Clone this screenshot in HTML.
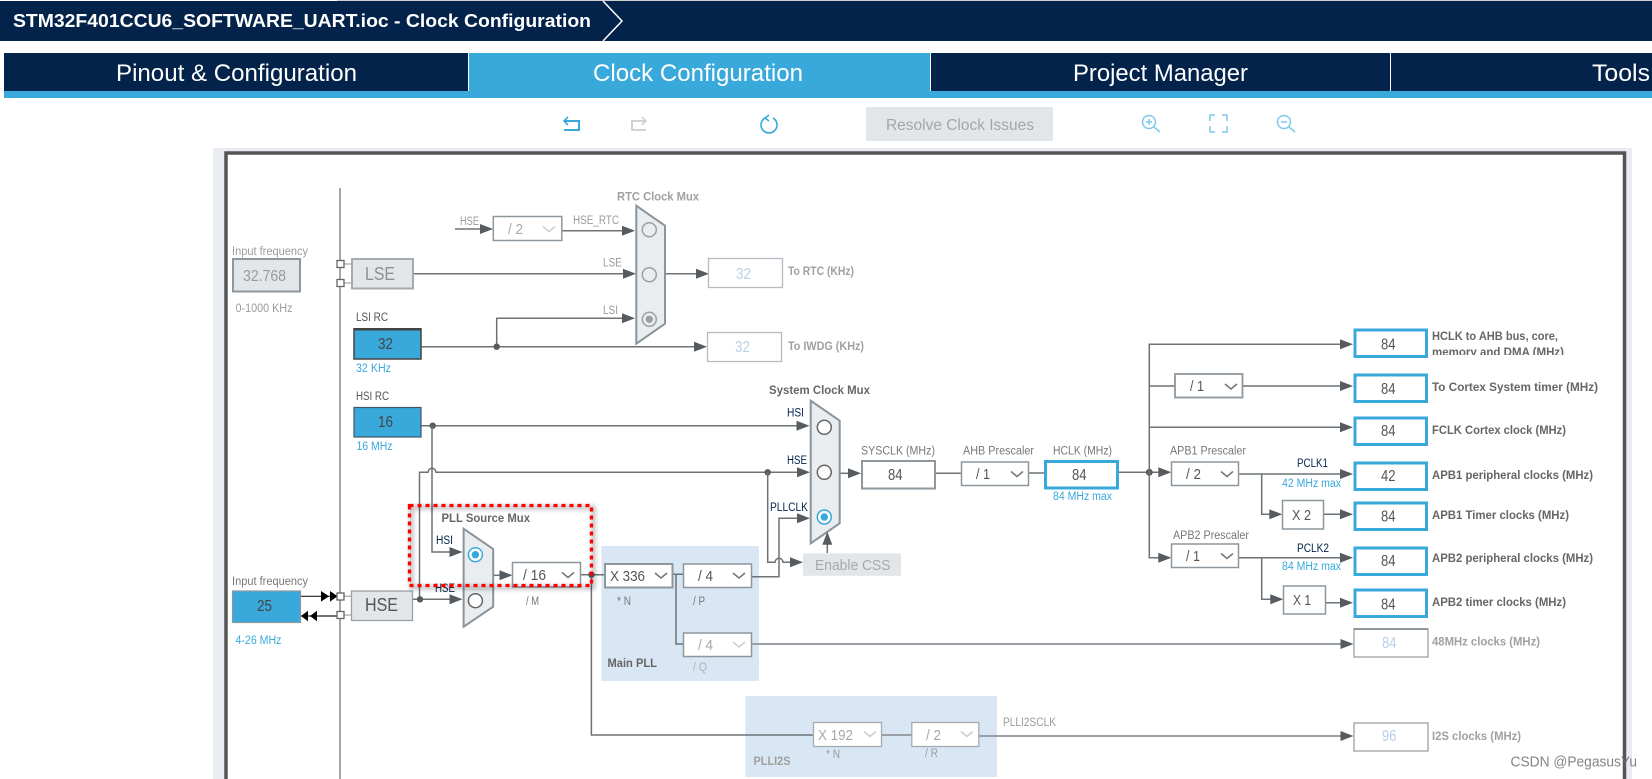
<!DOCTYPE html>
<html><head><meta charset="utf-8"><style>
html,body{margin:0;padding:0;background:#fff;width:1652px;height:779px;overflow:hidden}
svg{display:block;font-family:"Liberation Sans",sans-serif}
text{white-space:pre}
.l{stroke:#6c7276;stroke-width:1.5;fill:none}
.g{stroke:#999fa4;stroke-width:2;fill:none}
.s{font-size:11.5px;fill:#777}
.d{font-size:11.5px;fill:#9b9b9b}
.n{font-size:11.5px;fill:#03234b}
.k{font-size:11.5px;fill:#555}
.b{font-size:11.5px;fill:#39a9dc}
.h{font-size:11.5px;font-weight:bold;fill:#666}
.hd{font-size:11.5px;font-weight:bold;fill:#a0a0a0}
.v{font-size:16px;fill:#555}
.vd{font-size:16px;fill:#b9d0e8}
.sel{fill:#fff;stroke:#8e979d;stroke-width:1.5}
.out{fill:#fff;stroke:#39a9dc;stroke-width:3}
.mux{fill:#e9edf0;stroke:#8a949b;stroke-width:2}
.ci{fill:#fff;stroke:#666;stroke-width:1.5}
.cid{fill:#e9edf0;stroke:#9a9fa3;stroke-width:1.5}
.sq{fill:#fff;stroke:#666;stroke-width:1.3}
.tab{font-size:24.5px;fill:#fff}
</style></head><body>
<svg width="1652" height="779" viewBox="0 0 1652 779" xmlns="http://www.w3.org/2000/svg">
<defs>
<path id="a" d="M-13-5L0 0L-13 5z" fill="#565b5f"/>
<path id="c" d="M0 0L6 5L12 0" fill="none" stroke-width="1.6"/>
<filter id="sh" x="-5%" y="-10%" width="110%" height="125%"><feGaussianBlur stdDeviation="2.5"/></filter>
<clipPath id="cl"><rect x="1430" y="325" width="150" height="30"/></clipPath>
</defs>

<!-- header -->
<rect x="337" y="0" width="1315" height="1" fill="#cfcfcf"/>
<rect x="0" y="1" width="1652" height="40" fill="#03234b"/>
<path d="M603 1L622 21L603 41" fill="none" stroke="#fff" stroke-width="1.5"/>
<text x="13" y="27" font-size="18" font-weight="bold" fill="#fff" textLength="578" lengthAdjust="spacingAndGlyphs">STM32F401CCU6_SOFTWARE_UART.ioc - Clock Configuration</text>

<!-- tabs -->
<rect x="4" y="53" width="1648" height="38" fill="#03234b"/>
<rect x="469" y="53" width="461" height="38" fill="#39a9dc"/>
<rect x="4" y="91" width="1648" height="7" fill="#39a9dc"/>
<rect x="468" y="53" width="1" height="38" fill="#fff"/>
<rect x="930" y="53" width="1" height="38" fill="#fff"/>
<rect x="1390" y="53" width="1" height="38" fill="#fff"/>
<text class="tab" x="116" y="81" textLength="241" lengthAdjust="spacingAndGlyphs">Pinout &amp; Configuration</text>
<text class="tab" x="593" y="81" textLength="210" lengthAdjust="spacingAndGlyphs">Clock Configuration</text>
<text class="tab" x="1073" y="81" textLength="175" lengthAdjust="spacingAndGlyphs">Project Manager</text>
<text class="tab" x="1592" y="81" textLength="58" lengthAdjust="spacingAndGlyphs">Tools</text>

<!-- toolbar -->
<g fill="none" stroke="#39a9dc" stroke-width="1.6">
<path d="M564 121H579V130H564" stroke-width="2"/><path d="M568 117L564 121L568 125"/>
<path d="M765 118A8 8 0 1 0 773 118M769 115L765 118L769 121"/>
</g>
<g fill="none" stroke="#cfd3d6" stroke-width="2"><path d="M646 121H632V130H646"/><path d="M642 117L646 121L642 125" stroke-width="1.6"/></g>
<rect x="866" y="107" width="187" height="34" fill="#e3e6e9"/>
<text x="886" y="130" font-size="16" fill="#a2a6aa" textLength="148" lengthAdjust="spacingAndGlyphs">Resolve Clock Issues</text>
<g fill="none" stroke="#7fc9ea" stroke-width="1.5">
<circle cx="1149" cy="122" r="6.5"/><path d="M1154 127L1160 132M1146 122H1152M1149 119V125"/>
<path d="M1210 121V115H1215M1222 115H1227V121M1227 126V132H1222M1215 132H1210V126"/>
<circle cx="1284" cy="122" r="6.5"/><path d="M1289 127L1295 132M1281 122H1287"/>
</g>

<!-- panel -->
<rect x="213" y="148" width="1419" height="631" fill="#e9edf1"/>
<rect x="226" y="153" width="1398.5" height="640" fill="#fff" stroke="#555" stroke-width="3.5"/>

<!-- left rail -->
<path d="M340 188V779" stroke="#777" stroke-width="1.3" fill="none"/>

<!-- main PLL backgrounds -->
<rect x="601.4" y="546" width="157.6" height="135" fill="#d9e7f4"/>
<rect x="745.3" y="696" width="251.7" height="81" fill="#d9e7f4"/>

<!-- connectors -->
<path class="l" d="M455 229H483"/><use href="#a" x="493" y="229"/>
<path class="l" d="M562 230.7H625"/><use href="#a" x="635" y="230.7"/>
<path class="l" d="M413 273.7H626"/><use href="#a" x="636" y="273.7"/>
<path class="l" d="M665 273.7H698"/><use href="#a" x="709" y="273.7"/>
<path class="l" d="M421 346.7H697"/><use href="#a" x="707" y="346.7"/>
<path class="l" d="M496.7 346.7V318.3H625"/><use href="#a" x="635" y="318.3"/>
<circle cx="496.7" cy="346.7" r="3.2" fill="#565b5f"/>
<path d="M344 264H352M344 283H352M344 596.3H352M344 615H352" stroke="#b5babd" stroke-width="1.5" fill="none"/>

<path class="l" d="M421 425.7H799"/><use href="#a" x="809.5" y="425.7"/>
<circle cx="432.7" cy="425.7" r="3.2" fill="#565b5f"/>
<path class="l" d="M432 426V552H452"/><use href="#a" x="462.5" y="552"/>
<path class="l" d="M419.5 599V472.3H428A4 4 0 0 1 436 472.3H800"/><use href="#a" x="810" y="472.3"/>
<circle cx="767.7" cy="472.3" r="3.2" fill="#565b5f"/>
<path class="l" d="M767.7 472.3V562.3H775A4 4 0 0 1 783 562.3H793"/><use href="#a" x="803" y="562.3"/>
<path class="l" d="M751.5 576.7H779V518.3H800"/><use href="#a" x="810" y="518.3"/>
<path class="l" d="M827.3 553V542"/>
<path class="l" d="M412.5 599.3H452"/><use href="#a" x="462.5" y="599.3"/>
<circle cx="420" cy="599.3" r="3.2" fill="#565b5f"/>
<path d="M301 596.3H337M301 616H337" stroke="#222" stroke-width="1.2" fill="none"/>
<g fill="#000"><path d="M321 591L329 596.3L321 601.6zM330 591L337.5 596.3L330 601.6zM301 616L308 610.7V621.3zM310 616L317 610.7V621.3z"/></g>
<path class="l" d="M493 575.3H503"/><use href="#a" x="512.5" y="575.3"/>
<path class="l" d="M580.7 574.7H605M591.4 574.7V735H814"/>
<circle cx="591.4" cy="574.7" r="3.2" fill="#565b5f"/>
<path class="l" d="M672 574.3H684M676 574.3V644H684"/>
<path class="g" d="M751.5 644H1345"/><use href="#a" x="1353.5" y="644"/>
<path class="g" d="M881.5 735H912M979 736H1345"/><use href="#a" x="1353.5" y="736"/>

<path class="l" d="M840 473.3H851"/><use href="#a" x="861" y="473.3"/>
<path class="l" d="M935.5 473.3H962M1029 473H1045"/>
<path class="l" d="M1118 472.3H1161"/><use href="#a" x="1171.3" y="472.3"/>
<circle cx="1149.3" cy="472.3" r="3.5" fill="#565b5f"/>
<path class="l" d="M1163 344.3H1149.3V557.7H1161"/><use href="#a" x="1171.3" y="557.7"/>
<path class="l" d="M1149 344.3H1343"/><use href="#a" x="1353" y="344.3"/>
<path class="l" d="M1149 386H1175M1243 386H1343"/><use href="#a" x="1353" y="386"/>
<path class="l" d="M1149 427.3H1343"/><use href="#a" x="1353" y="427.3"/>
<path class="l" d="M1239 474H1343"/><use href="#a" x="1353" y="474"/>
<path class="l" d="M1261.7 474V514.3H1272"/><use href="#a" x="1282.3" y="514.3"/>
<path class="l" d="M1324 514.3H1343"/><use href="#a" x="1353" y="514.3"/>
<path class="l" d="M1239 557.7H1343"/><use href="#a" x="1353" y="557.7"/>
<path class="l" d="M1261.7 557.7V599.3H1273"/><use href="#a" x="1283.3" y="599.3"/>
<path class="l" d="M1326 602.7H1343"/><use href="#a" x="1353" y="602.7"/>

<!-- left inputs -->
<text class="d" x="232" y="255" textLength="76" lengthAdjust="spacingAndGlyphs">Input frequency</text>
<rect x="233" y="259" width="67" height="32.5" fill="#e3e6e9" stroke="#8e979d" stroke-width="2"/>
<text x="243" y="281" font-size="16" fill="#999" textLength="43" lengthAdjust="spacingAndGlyphs">32.768</text>
<text class="d" x="235.5" y="312" textLength="57" lengthAdjust="spacingAndGlyphs">0-1000 KHz</text>
<rect x="337" y="260.5" width="7" height="7" class="sq"/><rect x="337" y="279.5" width="7" height="7" class="sq"/>
<rect x="352" y="259" width="61" height="29.5" fill="#e3e6e9" stroke="#a4abb0" stroke-width="2"/>
<text x="365" y="280" font-size="18" fill="#8c9196" textLength="30" lengthAdjust="spacingAndGlyphs">LSE</text>

<text class="k" x="356" y="321" textLength="32" lengthAdjust="spacingAndGlyphs">LSI RC</text>
<rect x="354" y="329" width="67" height="30" fill="#39a9dc" stroke="#444" stroke-width="1.5"/>
<rect x="353.5" y="328" width="68" height="2.5" fill="#444"/>
<text x="378" y="349" font-size="16" fill="#444" textLength="15" lengthAdjust="spacingAndGlyphs">32</text>
<text class="b" x="356" y="372" textLength="35" lengthAdjust="spacingAndGlyphs">32 KHz</text>
<text class="k" x="356" y="400" textLength="33" lengthAdjust="spacingAndGlyphs">HSI RC</text>
<rect x="354" y="407.5" width="67" height="29.5" fill="#39a9dc" stroke="#3e5566" stroke-width="1.2"/>
<text x="378" y="427" font-size="16" fill="#444" textLength="15" lengthAdjust="spacingAndGlyphs">16</text>
<text class="b" x="356.5" y="450" textLength="36" lengthAdjust="spacingAndGlyphs">16 MHz</text>

<text class="s" x="232" y="585" textLength="76" lengthAdjust="spacingAndGlyphs">Input frequency</text>
<rect x="232.5" y="591" width="68" height="31.5" fill="#39a9dc" stroke="#8e979d" stroke-width="1.2"/>
<text x="257" y="611" font-size="16" fill="#444" textLength="15" lengthAdjust="spacingAndGlyphs">25</text>
<text class="b" x="235.5" y="644" textLength="46" lengthAdjust="spacingAndGlyphs">4-26 MHz</text>
<rect x="337" y="593" width="7" height="7" class="sq"/><rect x="337" y="611.5" width="7" height="7" class="sq"/>
<rect x="351.5" y="591" width="61" height="29.5" fill="#e3e6e9" stroke="#9aa1a6" stroke-width="1.3"/>
<text x="365" y="611" font-size="18" fill="#555" textLength="33" lengthAdjust="spacingAndGlyphs">HSE</text>

<!-- RTC mux -->
<text class="hd" x="617" y="200.7" textLength="82" lengthAdjust="spacingAndGlyphs">RTC Clock Mux</text>
<text class="d" x="460" y="225" textLength="19" lengthAdjust="spacingAndGlyphs">HSE</text>
<rect x="493.3" y="216.5" width="68.5" height="24" class="sel"/>
<text x="508" y="234" font-size="15" fill="#a5a9ad" textLength="15" lengthAdjust="spacingAndGlyphs">/ 2</text>
<use href="#c" x="543" y="226.5" stroke="#ccd0d3"/>
<text class="d" x="573" y="224" textLength="46" lengthAdjust="spacingAndGlyphs">HSE_RTC</text>
<text class="d" x="603" y="266.7" textLength="19" lengthAdjust="spacingAndGlyphs">LSE</text>
<text class="d" x="603" y="314" textLength="15" lengthAdjust="spacingAndGlyphs">LSI</text>
<polygon class="mux" points="636.3,205.7 665,225.7 665,323.7 636.3,343.7"/>
<circle class="cid" cx="649.3" cy="229.7" r="7"/>
<circle class="cid" cx="649.3" cy="274.7" r="7"/>
<circle class="cid" cx="649.3" cy="319.3" r="7"/><circle cx="649.3" cy="319.3" r="3.7" fill="#9a9fa3"/>
<rect x="708.5" y="258.5" width="74" height="29" fill="#fff" stroke="#b5bbc0" stroke-width="1.3"/>
<text x="736" y="279" class="vd" textLength="15" lengthAdjust="spacingAndGlyphs">32</text>
<text class="hd" x="788" y="275" textLength="66" lengthAdjust="spacingAndGlyphs">To RTC (KHz)</text>
<rect x="707.5" y="332.5" width="74" height="29" fill="#fff" stroke="#b5bbc0" stroke-width="1.3"/>
<text x="735" y="352" class="vd" textLength="15" lengthAdjust="spacingAndGlyphs">32</text>
<text class="hd" x="788" y="350" textLength="76" lengthAdjust="spacingAndGlyphs">To IWDG (KHz)</text>

<!-- PLL source mux -->
<text class="h" x="441.5" y="522" textLength="88.5" lengthAdjust="spacingAndGlyphs">PLL Source Mux</text>
<text class="n" x="436" y="544" textLength="17" lengthAdjust="spacingAndGlyphs">HSI</text>
<text class="n" x="435" y="592" textLength="20" lengthAdjust="spacingAndGlyphs">HSE</text>
<polygon class="mux" points="463.6,528.7 493.2,549 493.2,606.7 463.6,626.7"/>
<circle cx="475.4" cy="554.7" r="7" fill="#fff" stroke="#39a9dc" stroke-width="1.5"/><circle cx="475.4" cy="554.7" r="3.7" fill="#39a9dc"/>
<circle class="ci" cx="475.4" cy="600.7" r="7"/>
<rect x="512.5" y="562.5" width="68" height="24.5" class="sel"/>
<text x="523" y="580" font-size="15" fill="#555" textLength="23" lengthAdjust="spacingAndGlyphs">/ 16</text>
<use href="#c" x="562" y="572.5" stroke="#777"/>
<text class="s" x="526" y="605" textLength="13" lengthAdjust="spacingAndGlyphs">/ M</text>

<!-- main PLL -->
<text class="h" x="607.5" y="667" textLength="49.5" lengthAdjust="spacingAndGlyphs">Main PLL</text>
<rect x="605" y="564" width="67.5" height="23.5" fill="#fff" stroke="#8e979d" stroke-width="2"/>
<text x="610" y="581" font-size="15" fill="#555" textLength="35" lengthAdjust="spacingAndGlyphs">X 336</text>
<use href="#c" x="655" y="573" stroke="#777"/>
<text class="s" x="617" y="605" textLength="14" lengthAdjust="spacingAndGlyphs">* N</text>
<rect x="683.5" y="564" width="68" height="23.5" class="sel"/>
<text x="698" y="581" font-size="15" fill="#555" textLength="15" lengthAdjust="spacingAndGlyphs">/ 4</text>
<use href="#c" x="733" y="573" stroke="#777"/>
<text class="s" x="693" y="605" textLength="12" lengthAdjust="spacingAndGlyphs">/ P</text>
<rect x="683.5" y="633" width="68" height="23.5" class="sel"/>
<text x="698" y="650" font-size="15" fill="#a5a9ad" textLength="15" lengthAdjust="spacingAndGlyphs">/ 4</text>
<use href="#c" x="733" y="642" stroke="#ccd0d3"/>
<text class="d" x="693" y="671" textLength="14" lengthAdjust="spacingAndGlyphs" style="fill:#adb2b6">/ Q</text>

<!-- PLLI2S -->
<text class="hd" x="753.5" y="765" textLength="37" lengthAdjust="spacingAndGlyphs">PLLI2S</text>
<rect x="813.5" y="722.5" width="68" height="24" fill="#fff" stroke="#a5abb0" stroke-width="1.3"/>
<text x="818" y="740" font-size="15" fill="#a5a9ad" textLength="35" lengthAdjust="spacingAndGlyphs">X 192</text>
<use href="#c" x="864" y="731.5" stroke="#ccd0d3"/>
<text class="d" x="826" y="758" textLength="14" lengthAdjust="spacingAndGlyphs">* N</text>
<rect x="911.8" y="722.5" width="67" height="24" fill="#fff" stroke="#a5abb0" stroke-width="1.3"/>
<text x="926" y="740" font-size="15" fill="#a5a9ad" textLength="15" lengthAdjust="spacingAndGlyphs">/ 2</text>
<use href="#c" x="961" y="731.5" stroke="#ccd0d3"/>
<text class="d" x="925" y="757" textLength="13" lengthAdjust="spacingAndGlyphs">/ R</text>
<text class="d" x="1003" y="726" textLength="53" lengthAdjust="spacingAndGlyphs">PLLI2SCLK</text>

<!-- system mux -->
<text class="h" x="769" y="394" textLength="101" lengthAdjust="spacingAndGlyphs">System Clock Mux</text>
<text class="n" x="787" y="416.7" textLength="17" lengthAdjust="spacingAndGlyphs">HSI</text>
<text class="n" x="787" y="464" textLength="20" lengthAdjust="spacingAndGlyphs">HSE</text>
<text class="n" x="770" y="511" textLength="38" lengthAdjust="spacingAndGlyphs">PLLCLK</text>
<polygon class="mux" points="810.7,400.7 839.7,420.7 839.7,523.3 810.7,543.3"/>
<circle class="ci" cx="824.3" cy="427.3" r="7"/>
<circle class="ci" cx="824.3" cy="472.3" r="7"/>
<circle cx="824.3" cy="517" r="7" fill="#fff" stroke="#39a9dc" stroke-width="1.5"/><circle cx="824.3" cy="517" r="3.7" fill="#39a9dc"/>
<use href="#a" transform="translate(827.3 531.7) rotate(-90)"/>
<rect x="803" y="553.3" width="98" height="22.5" fill="#e3e6e9"/>
<text x="815" y="570" font-size="15" fill="#a5a9ad" textLength="75.5" lengthAdjust="spacingAndGlyphs">Enable CSS</text>

<!-- sysclk chain -->
<text class="s" x="861" y="454.7" textLength="74" lengthAdjust="spacingAndGlyphs">SYSCLK (MHz)</text>
<rect x="862" y="461" width="73" height="27.5" fill="#fff" stroke="#8e979d" stroke-width="2"/>
<text class="v" x="888" y="480" textLength="14.5" lengthAdjust="spacingAndGlyphs">84</text>
<text class="s" x="963" y="454.7" textLength="71" lengthAdjust="spacingAndGlyphs">AHB Prescaler</text>
<rect x="961.5" y="462" width="67" height="23.5" class="sel"/>
<text x="976" y="479" font-size="15" fill="#555" textLength="14" lengthAdjust="spacingAndGlyphs">/ 1</text>
<use href="#c" x="1011" y="471.5" stroke="#777"/>
<text class="s" x="1053" y="454.7" textLength="59" lengthAdjust="spacingAndGlyphs">HCLK (MHz)</text>
<rect x="1045.5" y="461.5" width="72" height="26.5" class="out"/>
<text class="v" x="1072" y="480" textLength="14.5" lengthAdjust="spacingAndGlyphs">84</text>
<text class="b" x="1053" y="500" textLength="59" lengthAdjust="spacingAndGlyphs">84 MHz max</text>

<!-- prescalers -->
<rect x="1175" y="374" width="67.5" height="23.5" fill="#fff" stroke="#8e979d" stroke-width="1.8"/>
<text x="1190" y="391" font-size="15" fill="#555" textLength="14" lengthAdjust="spacingAndGlyphs">/ 1</text>
<use href="#c" x="1225" y="384" stroke="#777"/>
<text class="s" x="1170" y="454.7" textLength="76" lengthAdjust="spacingAndGlyphs">APB1 Prescaler</text>
<rect x="1171.5" y="462" width="67" height="23.5" class="sel"/>
<text x="1186" y="479" font-size="15" fill="#555" textLength="15" lengthAdjust="spacingAndGlyphs">/ 2</text>
<use href="#c" x="1221" y="471.5" stroke="#777"/>
<text class="n" x="1297" y="467" textLength="31" lengthAdjust="spacingAndGlyphs">PCLK1</text>
<text class="b" x="1282" y="487" textLength="59" lengthAdjust="spacingAndGlyphs">42 MHz max</text>
<rect x="1282.5" y="500.5" width="41" height="28.5" fill="#fff" stroke="#8e979d" stroke-width="1.5"/>
<text x="1292" y="520" font-size="15" fill="#555" textLength="19" lengthAdjust="spacingAndGlyphs">X 2</text>
<text class="s" x="1173" y="539" textLength="76" lengthAdjust="spacingAndGlyphs">APB2 Prescaler</text>
<rect x="1171.5" y="544" width="67" height="23.5" class="sel"/>
<text x="1186" y="561" font-size="15" fill="#555" textLength="14" lengthAdjust="spacingAndGlyphs">/ 1</text>
<use href="#c" x="1221" y="553.5" stroke="#777"/>
<text class="n" x="1297" y="552" textLength="32" lengthAdjust="spacingAndGlyphs">PCLK2</text>
<text class="b" x="1282" y="570" textLength="59" lengthAdjust="spacingAndGlyphs">84 MHz max</text>
<rect x="1283.5" y="586" width="42" height="28" fill="#fff" stroke="#8e979d" stroke-width="1.5"/>
<text x="1293" y="605" font-size="15" fill="#555" textLength="18" lengthAdjust="spacingAndGlyphs">X 1</text>

<!-- outputs -->
<rect class="out" x="1355" y="330" width="71.5" height="26.5"/><text class="v" x="1381" y="349.3" textLength="14.5" lengthAdjust="spacingAndGlyphs">84</text>
<rect class="out" x="1355" y="375" width="71.5" height="26.5"/><text class="v" x="1381" y="394" textLength="14.5" lengthAdjust="spacingAndGlyphs">84</text>
<rect class="out" x="1355" y="418" width="71.5" height="26.5"/><text class="v" x="1381" y="436" textLength="14.5" lengthAdjust="spacingAndGlyphs">84</text>
<rect class="out" x="1355" y="463" width="71.5" height="26.5"/><text class="v" x="1381" y="481" textLength="14.5" lengthAdjust="spacingAndGlyphs">42</text>
<rect class="out" x="1355" y="503" width="71.5" height="26.5"/><text class="v" x="1381" y="521.3" textLength="14.5" lengthAdjust="spacingAndGlyphs">84</text>
<rect class="out" x="1355" y="548" width="71.5" height="26.5"/><text class="v" x="1381" y="566" textLength="14.5" lengthAdjust="spacingAndGlyphs">84</text>
<rect class="out" x="1355" y="590" width="71.5" height="26.5"/><text class="v" x="1381" y="609.3" textLength="14.5" lengthAdjust="spacingAndGlyphs">84</text>
<text class="h" x="1432" y="340" textLength="126" lengthAdjust="spacingAndGlyphs">HCLK to AHB bus, core,</text>
<text class="h" x="1432" y="356" textLength="132" lengthAdjust="spacingAndGlyphs" clip-path="url(#cl)">memory and DMA (MHz)</text>
<text class="h" x="1432" y="391" textLength="166" lengthAdjust="spacingAndGlyphs">To Cortex System timer (MHz)</text>
<text class="h" x="1432" y="434" textLength="134" lengthAdjust="spacingAndGlyphs">FCLK Cortex clock (MHz)</text>
<text class="h" x="1432" y="479" textLength="161" lengthAdjust="spacingAndGlyphs">APB1 peripheral clocks (MHz)</text>
<text class="h" x="1432" y="519" textLength="137" lengthAdjust="spacingAndGlyphs">APB1 Timer clocks (MHz)</text>
<text class="h" x="1432" y="562" textLength="161" lengthAdjust="spacingAndGlyphs">APB2 peripheral clocks (MHz)</text>
<text class="h" x="1432" y="606" textLength="134" lengthAdjust="spacingAndGlyphs">APB2 timer clocks (MHz)</text>

<rect x="1354" y="629" width="74" height="28" fill="#fff" stroke="#9aa1a6" stroke-width="1.3"/>
<path d="M1353.5 629H1428" stroke="#8e979d" stroke-width="2"/>
<text class="vd" x="1382" y="648" textLength="14.5" lengthAdjust="spacingAndGlyphs">84</text>
<text class="hd" x="1432" y="645.7" textLength="108" lengthAdjust="spacingAndGlyphs">48MHz clocks (MHz)</text>
<rect x="1354" y="723" width="74" height="28" fill="#fff" stroke="#9aa1a6" stroke-width="1.3"/>
<text class="vd" x="1382" y="741" textLength="14.5" lengthAdjust="spacingAndGlyphs">96</text>
<text class="hd" x="1432" y="740" textLength="89" lengthAdjust="spacingAndGlyphs">I2S clocks (MHz)</text>

<!-- red highlight -->
<rect x="409.5" y="505.5" width="182" height="80" fill="none" stroke="#000" stroke-opacity=".35" stroke-width="3" filter="url(#sh)" transform="translate(2 2)"/>
<rect x="409.5" y="505.5" width="182" height="80" fill="none" stroke="#f00" stroke-width="3.3" stroke-dasharray="4 4"/>

<text x="1510.5" y="766.7" font-size="15" fill="#6f6f6f" fill-opacity=".85" textLength="126.5" lengthAdjust="spacingAndGlyphs">CSDN @PegasusYu</text>
</svg>
</body></html>
